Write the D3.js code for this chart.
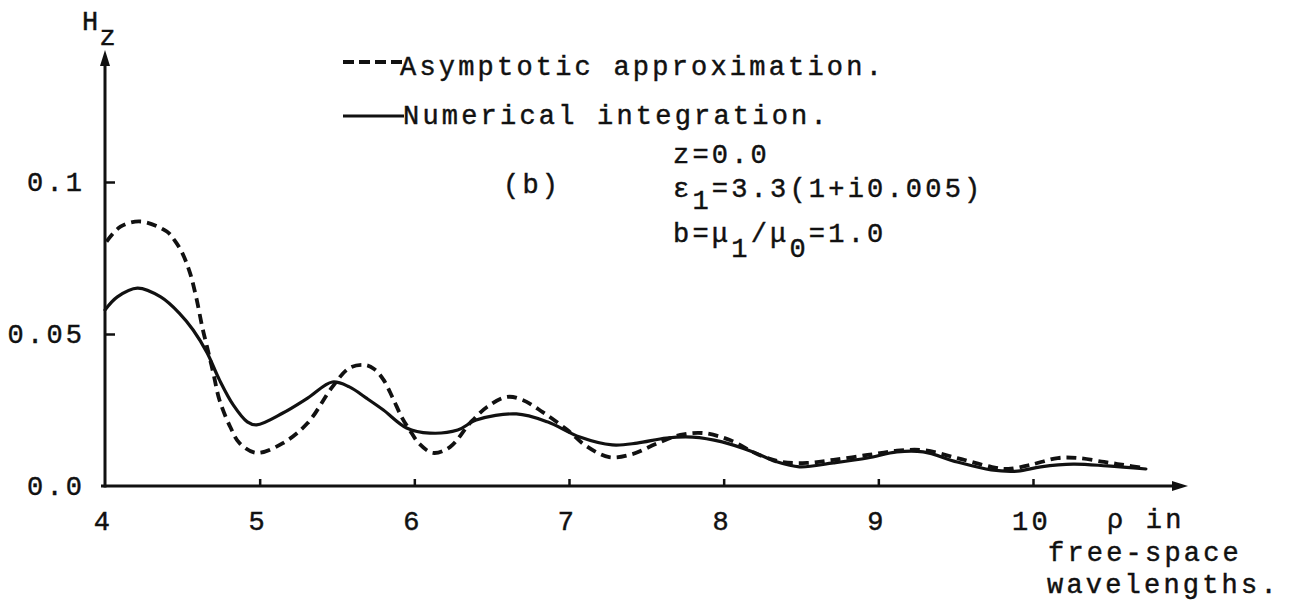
<!DOCTYPE html>
<html>
<head>
<meta charset="utf-8">
<script src="https://cdn.jsdelivr.net/npm/d3@7"></script>
<style>
  html, body { margin: 0; background: #fff; }
  svg text {
    font-family: "Liberation Mono", "Courier New", monospace;
    font-size: 27px;
    letter-spacing: 3.2px;
    fill: #111;
    stroke: #111;
    stroke-width: 0.45px;
  }
</style>
</head>
<body>
<svg id="chart" width="1291" height="604"></svg>
<script>
// Asymptotic approximation of Hz versus rho (free-space wavelengths)
const rhoAsymptotic = [4.01, 4.10, 4.23, 4.40, 4.45, 4.50, 4.55, 4.59, 4.63, 4.66, 4.70, 4.74, 4.81, 4.87, 4.98,
  5.15, 5.31, 5.47, 5.58, 5.68, 5.74, 5.80, 5.86, 5.92, 5.97, 6.03, 6.12, 6.23, 6.36, 6.47, 6.60, 6.70, 6.83,
  6.99, 7.11, 7.26, 7.41, 7.57, 7.72, 7.87, 8.04, 8.23, 8.38, 8.54, 8.71, 8.93, 9.12, 9.29, 9.51,
  9.73, 9.84, 9.98, 10.16, 10.29, 10.46, 10.59, 10.72];
const hzAsymptotic = [0.0804, 0.0853, 0.0870, 0.0837, 0.0808, 0.0766, 0.0700, 0.0620, 0.0520, 0.0457, 0.0372, 0.0283, 0.0194, 0.0141, 0.0109,
  0.0141, 0.0207, 0.0326, 0.0388, 0.0398, 0.0385, 0.0350, 0.0290, 0.0225, 0.0184, 0.0140, 0.0109, 0.0128, 0.0207, 0.0260, 0.0293, 0.0283, 0.0243,
  0.0184, 0.0132, 0.0095, 0.0105, 0.0140, 0.0168, 0.0174, 0.0151, 0.0102, 0.0079, 0.0076, 0.0086, 0.0102, 0.0116, 0.0118, 0.0092,
  0.0063, 0.0056, 0.0069, 0.0092, 0.0092, 0.0079, 0.0069, 0.0059];

// Numerical integration of Hz versus rho
const rhoNumerical = [4.00, 4.08, 4.21, 4.36, 4.48, 4.57, 4.66, 4.74, 4.83, 4.92, 4.98, 5.15, 5.31,
  5.47, 5.58, 5.69, 5.80, 5.95, 6.10, 6.28, 6.40, 6.66, 6.86, 7.07, 7.28, 7.44, 7.63, 7.80, 7.99,
  8.19, 8.34, 8.49, 8.71, 8.93, 9.12, 9.29, 9.51, 9.73, 9.90, 10.05, 10.26, 10.48, 10.73];
const hzNumerical = [0.0579, 0.0622, 0.0651, 0.0622, 0.0569, 0.0513, 0.0438, 0.0349, 0.0266, 0.0211, 0.0201, 0.0240, 0.0289,
  0.0342, 0.0326, 0.0289, 0.0250, 0.0191, 0.0174, 0.0184, 0.0217, 0.0237, 0.0211, 0.0161, 0.0135, 0.0141, 0.0158, 0.0161, 0.0145,
  0.0112, 0.0080, 0.0063, 0.0076, 0.0092, 0.0112, 0.0112, 0.0079, 0.0053, 0.0049, 0.0063, 0.0072, 0.0066, 0.0056];

const xTickValues = [4, 5, 6, 7, 8, 9, 10];
const yTickValues = [0, 0.05, 0.1];
const yTickLabels = ["0.0", "0.05", "0.1"];
const legendLabels = ["Asymptotic approximation.", "Numerical integration."];

const ink = "#111";
const svg = d3.select("#chart");

const x = d3.scaleLinear().domain([4, 10]).range([105, 1033]);
const y = d3.scaleLinear().domain([0, 0.1]).range([486, 182]);

// Axis lines with arrowheads
const x0 = x(4), y0 = y(0);
const xEnd = 1188, yTop = 50;
svg.append("line").attr("x1", x0 - 4).attr("x2", xEnd - 10).attr("y1", y0).attr("y2", y0)
  .attr("stroke", ink).attr("stroke-width", 3);
svg.append("path").attr("d", `M${xEnd},${y0} L${xEnd - 16},${y0 - 5} L${xEnd - 16},${y0 + 5} Z`).attr("fill", ink);
svg.append("line").attr("x1", x0).attr("x2", x0).attr("y1", y0 + 1.5).attr("y2", yTop + 10)
  .attr("stroke", ink).attr("stroke-width", 3);
svg.append("path").attr("d", `M${x0},${yTop} L${x0 - 5},${yTop + 16} L${x0 + 5},${yTop + 16} Z`).attr("fill", ink);

// Bottom axis: ticks pointing up, numbers below
const gx = svg.append("g").attr("transform", `translate(0,${y0})`)
  .call(d3.axisBottom(x).tickValues(xTickValues).tickFormat(d3.format("d"))
    .tickSizeInner(-7).tickSizeOuter(0).tickPadding(25));
gx.select(".domain").remove();
gx.selectAll(".tick line").attr("stroke", ink).attr("stroke-width", 2.5)
  .attr("display", d => d === 4 ? "none" : null);
gx.selectAll(".tick text").attr("dx", -2);

// Left axis: ticks pointing right, numbers on the left
const gy = svg.append("g").attr("transform", `translate(${x0},0)`)
  .call(d3.axisLeft(y).tickValues(yTickValues).tickFormat((d, i) => yTickLabels[i])
    .tickSizeInner(-10).tickSizeOuter(0).tickPadding(23));
gy.select(".domain").remove();
gy.selectAll(".tick line").attr("stroke", ink).attr("stroke-width", 2.5)
  .attr("display", d => d === 0 ? "none" : null);
gy.selectAll(".tick text").attr("dx", 3.2);

// Axis titles
const hz = svg.append("text").attr("x", 82).attr("y", 30);
hz.append("tspan").text("H");
hz.append("tspan").attr("dy", 15).attr("dx", -2).text("z");

const xt = svg.append("g");
xt.append("text").attr("x", 1107).attr("y", 528).text("ρ in");
xt.append("text").attr("x", 1048).attr("y", 561).text("free-space");
xt.append("text").attr("x", 1047).attr("y", 593).text("wavelengths.");

// Curves
const line = d3.line().x(d => x(d[0])).y(d => y(d[1])).curve(d3.curveCatmullRom.alpha(0.5));
const asymPts = rhoAsymptotic.map((r, i) => [r, hzAsymptotic[i]]);
const numPts = rhoNumerical.map((r, i) => [r, hzNumerical[i]]);

svg.append("path").datum(numPts).attr("d", line)
  .attr("fill", "none").attr("stroke", ink).attr("stroke-width", 3.2)
  .attr("stroke-linejoin", "round").attr("stroke-linecap", "round");
svg.append("path").datum(asymPts).attr("d", line)
  .attr("fill", "none").attr("stroke", ink).attr("stroke-width", 3.8)
  .attr("stroke-dasharray", "10,6");

// Legend
svg.append("line").attr("x1", 343).attr("x2", 402).attr("y1", 62).attr("y2", 62)
  .attr("stroke", ink).attr("stroke-width", 3.8).attr("stroke-dasharray", "11,5");
svg.append("text").attr("x", 400).attr("y", 75).text(legendLabels[0]);
svg.append("line").attr("x1", 343).attr("x2", 404).attr("y1", 116).attr("y2", 116)
  .attr("stroke", ink).attr("stroke-width", 3.2);
svg.append("text").attr("x", 403).attr("y", 124).text(legendLabels[1]);

// Parameter annotations
svg.append("text").attr("x", 503).attr("y", 193).text("(b)");
svg.append("text").attr("x", 673).attr("y", 163).text("z=0.0");
const eps = svg.append("text").attr("x", 673).attr("y", 197);
eps.append("tspan").text("ε");
eps.append("tspan").attr("dy", 12).text("1");
eps.append("tspan").attr("dy", -12).text("=3.3(1+i0.005)");
const mu = svg.append("text").attr("x", 673).attr("y", 242);
mu.append("tspan").text("b=μ");
mu.append("tspan").attr("dy", 15).text("1");
mu.append("tspan").attr("dy", -15).text("/μ");
mu.append("tspan").attr("dy", 15).text("0");
mu.append("tspan").attr("dy", -15).text("=1.0");
</script>
</body>
</html>
